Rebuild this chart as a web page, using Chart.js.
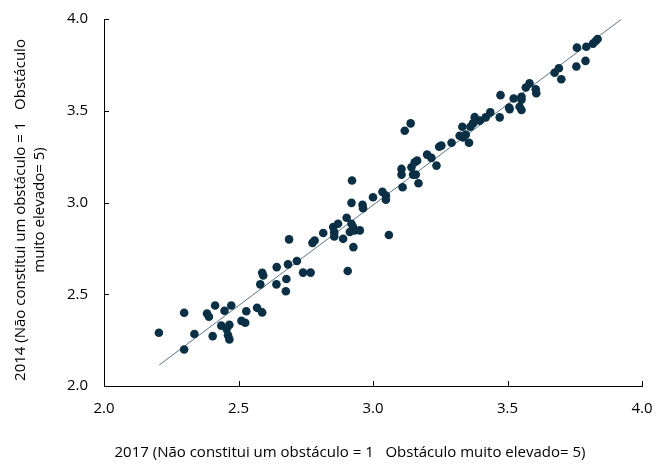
<!DOCTYPE html>
<html>
<head>
<meta charset="utf-8">
<script src="https://cdn.jsdelivr.net/npm/chart.js@4/dist/chart.umd.min.js"></script>
<style>
  html, body { margin: 0; padding: 0; background: #fff; }
  #wrap { width: 656px; height: 465px; }
</style>
</head>
<body>
<div id="wrap"><canvas id="scatterChart" width="656" height="465"></canvas></div>
<script>
// values
const x2017 = [
    2.204, 2.298, 2.298, 2.336, 2.383, 2.390, 2.404, 2.413, 2.436, 2.448,
    2.456, 2.466, 2.461, 2.466, 2.473, 2.511, 2.525, 2.529, 2.569, 2.588,
    2.581, 2.588, 2.592, 2.642, 2.641, 2.678, 2.676, 2.684, 2.688, 2.717,
    2.740, 2.768, 2.775, 2.783, 2.815, 2.856, 2.856, 2.852, 2.870, 2.889,
    2.902, 2.920, 2.926, 2.932, 2.951, 2.914, 2.927, 2.906, 2.922, 2.920,
    2.961, 2.963, 3.000, 3.035, 3.048, 3.048, 3.059, 3.106, 3.106, 3.110,
    3.118, 3.140, 3.143, 3.155, 3.164, 3.149, 3.159, 3.169, 3.201, 3.217,
    3.236, 3.246, 3.254, 3.292, 3.322, 3.335, 3.345, 3.332, 3.357, 3.362,
    3.372, 3.378, 3.397, 3.419, 3.436, 3.471, 3.474, 3.506, 3.508, 3.523,
    3.545, 3.552, 3.552, 3.552, 3.568, 3.582, 3.605, 3.607, 3.675, 3.691,
    3.700, 3.756, 3.758, 3.790, 3.793, 3.818, 3.828, 3.835
];
const y2014 = [
    2.290, 2.399, 2.199, 2.283, 2.395, 2.377, 2.272, 2.439, 2.329, 2.410,
    2.310, 2.333, 2.277, 2.254, 2.439, 2.355, 2.345, 2.407, 2.426, 2.401,
    2.554, 2.617, 2.602, 2.648, 2.554, 2.583, 2.516, 2.663, 2.799, 2.681,
    2.618, 2.618, 2.780, 2.793, 2.834, 2.837, 2.815, 2.866, 2.884, 2.802,
    2.917, 2.884, 2.866, 2.848, 2.848, 2.839, 2.757, 2.627, 3.120, 2.998,
    2.988, 2.969, 3.029, 3.058, 3.038, 3.015, 2.823, 3.183, 3.152, 3.083,
    3.391, 3.431, 3.192, 3.219, 3.228, 3.152, 3.152, 3.105, 3.261, 3.243,
    3.201, 3.304, 3.310, 3.326, 3.364, 3.355, 3.370, 3.413, 3.326, 3.413,
    3.431, 3.465, 3.446, 3.464, 3.491, 3.464, 3.585, 3.518, 3.509, 3.567,
    3.522, 3.504, 3.576, 3.560, 3.627, 3.649, 3.617, 3.595, 3.707, 3.732,
    3.672, 3.741, 3.844, 3.772, 3.849, 3.866, 3.880, 3.891
];
const trendX = [2.205, 3.923];
const trendY = [2.114, 3.998];
const tickValues = [2.0, 2.5, 3.0, 3.5, 4.0];
const xTitle = '2017 (Não constitui um obstáculo = 1   Obstáculo muito elevado= 5)';
const yTitle = ['2014 (Não constitui um obstáculo = 1   Obstáculo', 'muito elevado= 5)'];

const FONT = '"Open Sans", Lato, sans-serif';

// small tick marks pointing into the plot, plus the axis titles
const axisExtras = {
    id: 'axisExtras',
    afterDraw(chart) {
        const c = chart.ctx;
        const xs = chart.scales.x, ys = chart.scales.y;
        c.save();
        c.strokeStyle = '#000';
        c.lineWidth = 1;
        c.beginPath();
        tickValues.forEach(v => {
            const px = Math.round(xs.getPixelForValue(v)) + 0.5;
            c.moveTo(px, ys.bottom);
            c.lineTo(px, ys.bottom - 5);
            const py = Math.round(ys.getPixelForValue(v)) + 0.5;
            c.moveTo(xs.left, py);
            c.lineTo(xs.left + 5, py);
        });
        c.stroke();

        c.fillStyle = '#000';
        c.font = '15px ' + FONT;
        c.textAlign = 'center';
        c.textBaseline = 'middle';
        c.fillText(xTitle, 350, 453);
        c.translate(0, 210);
        c.rotate(-Math.PI / 2);
        c.fillText(yTitle[0], 0, 21);
        c.fillText(yTitle[1], 0, 40);
        c.restore();
    }
};

document.addEventListener('DOMContentLoaded', function () {
    const ctx = document.getElementById('scatterChart').getContext('2d');

    const points = x2017.map((x, i) => ({ x: x, y: y2014[i] }));
    const trend = trendX.map((x, i) => ({ x: x, y: trendY[i] }));

    const data = {
        datasets: [{
            type: 'scatter',
            label: 'Regiões',
            data: points,
            backgroundColor: '#0b2f45',
            borderColor: '#0b2f45',
            pointRadius: 4.3,
            pointBorderWidth: 0,
            order: 1,
        }, {
            type: 'line',
            label: 'Tendência',
            data: trend,
            borderColor: '#5b7689',
            borderWidth: 1,
            pointRadius: 0,
            fill: false,
            order: 2,
        }],
    };

    const axisCommon = {
        type: 'linear',
        min: 2,
        max: 4,
        grid: { display: true, drawOnChartArea: false, drawTicks: false },
        border: { display: true, color: '#000', width: 1 },
        ticks: {
            stepSize: 0.5,
            color: '#000',
            font: { family: FONT, size: 15 },
            callback: v => Number(v).toFixed(1),
        },
    };

    const config = {
        type: 'scatter',
        data: data,
        plugins: [axisExtras],
        options: {
            responsive: false,
            animation: false,
            layout: { padding: { left: 0, right: 14, top: 19, bottom: 0 } },
            plugins: {
                legend: { display: false },
                tooltip: { enabled: false },
            },
            scales: {
                x: Object.assign({}, axisCommon, {
                    position: 'bottom',
                    ticks: Object.assign({}, axisCommon.ticks, { padding: 14, maxRotation: 0 }),
                    afterFit: s => {
                        s.height = 79;
                        s.paddingLeft = 0;
                        s.paddingRight = 0;
                    },
                }),
                y: Object.assign({}, axisCommon, {
                    position: 'left',
                    ticks: Object.assign({}, axisCommon.ticks, { padding: 16 }),
                    afterFit: s => {
                        s.width = 104;
                        s.paddingTop = 0;
                        s.paddingBottom = 0;
                    },
                }),
            },
        },
    };

    const myChart = new Chart(ctx, config);
});
</script>
</body>
</html>
